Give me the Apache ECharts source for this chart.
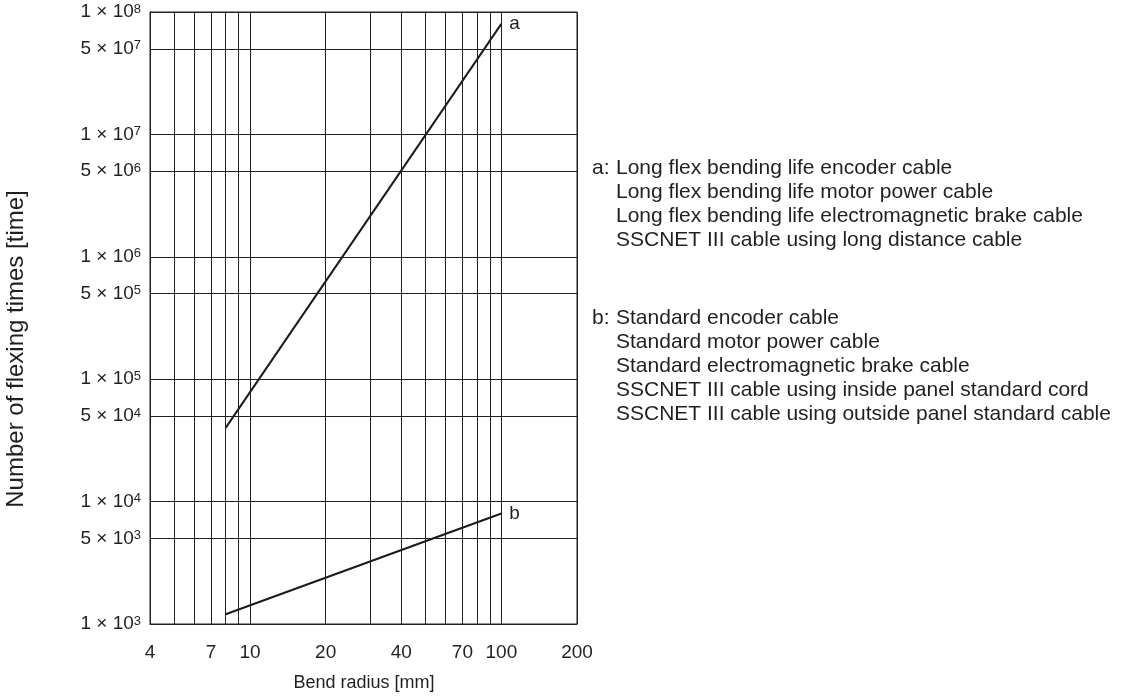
<!DOCTYPE html>
<html><head><meta charset="utf-8">
<script src="https://cdn.jsdelivr.net/npm/echarts@6/dist/echarts.min.js"></script>
<style>html,body{margin:0;padding:0;background:#fff}#c{width:1131px;height:696px}</style>
</head><body><div id="c"></div>
<script>
// ---- data ----
const bendRadius = [8, 100];
const lifeA = [4.0e4, 8.0e7];
const lifeB = [1.2e3, 8.0e3];
const seriesNames = ['a', 'b'];
const xTickLabels = [4, 7, 10, 20, 40, 70, 100, 200];
const xGridLines = [5, 6, 7, 8, 9, 20, 30, 40, 50, 60, 70, 80, 90];
const yHalfLines = [5e3, 5e4, 5e5, 5e6, 5e7];
const xRange = [4, 200];
const yRange = [1e3, 1e8];
const xTitle = 'Bend radius [mm]';
const yTitle = 'Number of flexing times [time]';
const legendA = ['Long flex bending life encoder cable', 'Long flex bending life motor power cable', 'Long flex bending life electromagnetic brake cable', 'SSCNET III cable using long distance cable'];
const legendB = ['Standard encoder cable', 'Standard motor power cable', 'Standard electromagnetic brake cable', 'SSCNET III cable using inside panel standard cord', 'SSCNET III cable using outside panel standard cable'];

// ---- style ----
const FONT = '"Liberation Sans", Arial, Helvetica, sans-serif';
const TXT = '#231f20';
const GRIDC = '#231f20';
const FS = 19;      // tick labels
const LFS = 21;     // legend text
const rich = {
  m: { fontSize: FS, fontFamily: FONT, color: TXT },
  s: { fontSize: 13, fontFamily: FONT, color: TXT, verticalAlign: 'top' }
};
function sciLabel(v) {
  const e = Math.floor(Math.log10(v) + 1e-9);
  const m = Math.round(v / Math.pow(10, e));
  return '{m|' + m + ' × 10}{s|' + e + '}';
}

const chart = echarts.init(document.getElementById('c'), null, { renderer: 'canvas' });

function txt(x, y, text, size, extra) {
  return Object.assign({ type: 'text', x: x, y: y, silent: true,
    style: { text: text, font: size + 'px ' + FONT, fill: TXT, align: 'left', verticalAlign: 'middle' } }, extra || {});
}
const graphics = [];
const xt = txt(364, 683, xTitle, 18); xt.style.align = 'center'; graphics.push(xt);
const yt = txt(16, 349, yTitle, 24, { rotation: Math.PI / 2 }); yt.style.align = 'center'; graphics.push(yt);
graphics.push(txt(592, 168, seriesNames[0] + ':', LFS));
legendA.forEach((t, i) => graphics.push(txt(616, 168 + i * 24, t, LFS)));
graphics.push(txt(592, 318, seriesNames[1] + ':', LFS));
legendB.forEach((t, i) => graphics.push(txt(616, 318 + i * 24, t, LFS)));

const option = {
  animation: false,
  backgroundColor: '#ffffff',
  grid: { left: 150, right: 554, top: 12, bottom: 72, show: true, borderColor: GRIDC, borderWidth: 1, outerBoundsMode: 'none' },
  xAxis: {
    type: 'log', logBase: 10, min: xRange[0], max: xRange[1],
    axisLine: { show: true, lineStyle: { color: GRIDC, width: 1 } },
    axisTick: { show: false }, axisLabel: { show: false }, minorTick: { show: false },
    splitLine: { show: true, lineStyle: { color: GRIDC, width: 1 } }
  },
  yAxis: {
    type: 'log', logBase: 10, min: yRange[0], max: yRange[1],
    axisLine: { show: true, lineStyle: { color: GRIDC, width: 1 } },
    axisTick: { show: false }, minorTick: { show: false },
    axisLabel: { show: true, showMinLabel: true, showMaxLabel: true, margin: 9, formatter: sciLabel, rich: rich },
    splitLine: { show: true, lineStyle: { color: GRIDC, width: 1 } }
  },
  graphic: graphics,
  series: [
    {
      name: seriesNames[0], type: 'line', showSymbol: false, symbol: 'none', silent: true,
      data: bendRadius.map((r, i) => [r, lifeA[i]]),
      lineStyle: { color: '#1a1a1a', width: 2 },
      endLabel: { show: true, formatter: seriesNames[0], fontSize: FS, fontFamily: FONT, color: TXT, distance: 8 },
      markLine: {
        silent: true, symbol: ['none', 'none'], animation: false,
        label: { show: false },
        lineStyle: { color: GRIDC, width: 1, type: 'solid' },
        emphasis: { disabled: true },
        data: xGridLines.map(v => ({ xAxis: v })).concat(
          yHalfLines.map(v => ({ yAxis: v, label: { show: true, position: 'start', distance: 9, formatter: sciLabel(v), rich: rich } })))
      }
    },
    {
      name: seriesNames[1], type: 'line', showSymbol: false, symbol: 'none', silent: true,
      data: bendRadius.map((r, i) => [r, lifeB[i]]),
      lineStyle: { color: '#1a1a1a', width: 2 },
      endLabel: { show: true, formatter: seriesNames[1], fontSize: FS, fontFamily: FONT, color: TXT, distance: 8 },
      markLine: {
        silent: true, symbol: ['none', 'none'], animation: false,
        emphasis: { disabled: true },
        lineStyle: { color: 'rgba(0,0,0,0)', width: 1, type: 'solid' },
        data: xTickLabels.map(v => ({ xAxis: v, label: { show: true, position: 'start', distance: 19, formatter: String(v), fontSize: FS, fontFamily: FONT, color: TXT } }))
      }
    }
  ]
};
chart.setOption(option);
</script>
</body></html>
